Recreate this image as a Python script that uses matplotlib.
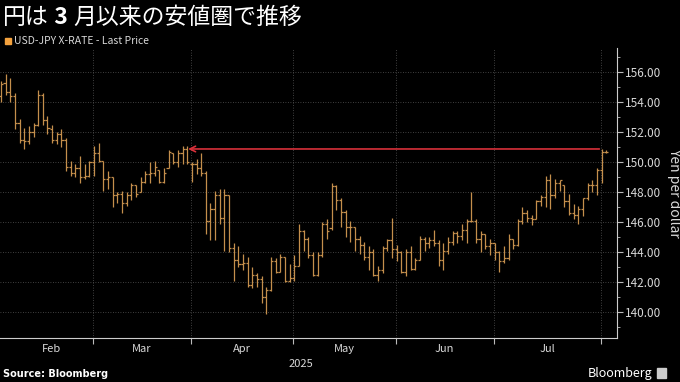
import pandas as pd
import matplotlib.pyplot as plt
import numpy as np
from matplotlib.patches import Rectangle

plt.rcParams['font.family'] = ['Noto Sans CJK JP', 'DejaVu Sans']

# daily USD-JPY bars, weekdays from Jan 31 to Aug 1 2025
dates = pd.bdate_range('2025-01-31', '2025-08-01')

opens = [154.4, 155.3, 154.7, 154.4, 152.6, 151.5, 151.4, 152.0, 152.5, 154.5,
         152.8, 152.2, 151.5, 151.9, 151.5, 149.7, 149.3, 149.6, 149.0, 149.1,
         150.0, 150.6, 150.1, 148.9, 149.0, 147.8, 147.9, 147.3, 147.8, 148.5,
         148.0, 148.7, 149.2, 149.3, 149.5, 148.7, 149.6, 150.6, 150.0, 150.6,
         150.9, 149.9, 149.9, 149.6, 149.3, 146.1, 146.9, 147.8, 146.3, 147.8,
         144.3, 143.5, 143.2, 143.3, 141.8, 142.5, 142.2, 141.0, 141.5, 143.4,
         142.7, 143.7, 142.1, 142.3, 143.1, 145.4, 144.9, 143.8, 142.5, 143.8,
         145.9, 145.6, 148.4, 147.5, 146.7, 145.7, 145.7, 144.9, 144.5, 143.7,
         144.0, 142.5, 142.8, 144.3, 144.8, 144.2, 144.0, 142.7, 144.0, 142.9,
         143.5, 144.9, 144.6, 144.8, 144.6, 143.5, 144.1, 144.7, 145.3, 145.1,
         145.5, 146.1, 146.1, 144.9, 145.2, 144.4, 144.6, 144.0, 143.4, 143.6,
         144.9, 144.5, 146.1, 146.6, 146.3, 146.2, 147.4, 147.7, 148.8, 147.8,
         148.6, 148.5, 147.4, 146.6, 146.5, 146.9, 147.6, 148.5, 148.5, 149.5,
         150.7]
highs = [155.4, 155.9, 155.6, 154.6, 152.9, 152.3, 152.4, 152.6, 154.8, 154.6,
         153.1, 152.5, 152.0, 152.2, 151.6, 150.1, 149.9, 150.4, 149.9, 150.1,
         151.1, 151.3, 150.1, 149.4, 149.0, 148.0, 148.1, 148.0, 148.6, 148.5,
         149.0, 149.4, 150.0, 150.1, 149.5, 149.6, 150.8, 150.6, 150.8, 151.1,
         151.1, 150.0, 150.2, 150.6, 149.4, 147.3, 148.1, 148.2, 148.2, 147.8,
         144.6, 144.4, 143.9, 143.7, 143.0, 142.6, 142.4, 141.7, 143.7, 143.6,
         143.9, 143.7, 143.2, 143.8, 145.9, 145.5, 145.0, 144.0, 144.0, 146.0,
         146.2, 148.6, 148.5, 147.6, 146.8, 146.1, 145.7, 145.1, 144.7, 144.4,
         144.2, 143.1, 144.4, 144.9, 146.3, 144.5, 144.1, 144.2, 144.4, 143.6,
         145.1, 145.0, 145.0, 145.5, 144.8, 144.6, 145.0, 145.4, 145.4, 145.9,
         146.2, 148.0, 146.2, 145.4, 145.2, 144.9, 144.6, 144.1, 144.4, 145.2,
         144.9, 146.2, 147.0, 146.8, 146.5, 147.5, 147.8, 149.1, 149.2, 148.9,
         148.8, 148.5, 147.9, 147.2, 147.1, 147.6, 148.6, 148.8, 149.6, 150.9,
         150.8]
lows = [154.0, 154.5, 154.0, 152.2, 151.3, 150.9, 151.2, 151.7, 152.4, 152.5,
        151.9, 151.3, 151.2, 151.0, 149.4, 149.1, 149.0, 148.6, 148.9, 149.0,
        149.1, 150.0, 148.1, 148.2, 147.0, 147.3, 146.6, 147.1, 147.5, 147.7,
        148.0, 148.6, 148.6, 149.1, 148.6, 148.6, 149.6, 149.9, 149.7, 149.9,
        149.9, 148.7, 149.2, 149.1, 145.2, 144.8, 144.8, 145.9, 144.1, 144.0,
        142.1, 143.0, 142.8, 141.7, 141.6, 141.7, 140.6, 139.9, 141.4, 142.6,
        142.7, 142.0, 142.0, 142.1, 143.1, 144.1, 143.6, 142.4, 142.4, 143.7,
        144.9, 145.5, 146.8, 145.7, 145.0, 144.7, 144.1, 143.9, 143.5, 142.8,
        142.4, 142.1, 142.6, 144.1, 143.6, 143.4, 142.6, 142.4, 142.8, 142.8,
        143.5, 144.1, 144.3, 144.4, 143.1, 142.8, 143.9, 144.5, 144.6, 144.8,
        144.6, 146.0, 144.6, 144.0, 144.2, 143.8, 143.5, 142.7, 143.3, 143.5,
        144.2, 144.4, 145.9, 146.0, 145.8, 146.2, 147.1, 147.0, 146.9, 147.6,
        148.1, 147.0, 146.5, 146.2, 145.9, 146.4, 147.5, 148.0, 147.8, 148.6,
        150.6]
closes = [155.2, 154.7, 154.4, 152.6, 151.5, 151.4, 152.0, 152.5, 154.5, 152.8,
          152.3, 151.5, 151.9, 151.5, 149.7, 149.3, 149.6, 149.0, 149.1, 150.0,
          150.6, 150.1, 148.9, 149.0, 147.8, 147.9, 147.3, 147.8, 148.5, 147.9,
          148.7, 149.2, 149.3, 149.7, 148.7, 149.3, 150.7, 150.0, 150.6, 150.9,
          150.0, 149.9, 149.6, 149.3, 146.1, 146.9, 147.8, 146.3, 147.8, 144.3,
          143.5, 143.2, 143.3, 141.8, 142.5, 142.2, 141.0, 141.5, 143.4, 142.7,
          143.7, 142.1, 142.3, 143.1, 145.4, 144.9, 143.8, 142.5, 143.8, 145.9,
          145.4, 148.4, 147.5, 146.7, 145.7, 145.7, 144.9, 144.5, 143.7, 144.0,
          142.5, 142.8, 144.3, 144.8, 144.2, 144.0, 142.7, 144.0, 142.9, 143.5,
          144.9, 144.6, 144.8, 144.6, 143.5, 144.1, 144.7, 145.3, 145.1, 145.5,
          146.1, 146.1, 144.9, 145.2, 144.4, 144.6, 144.0, 143.4, 143.6, 144.9,
          144.5, 146.1, 146.6, 146.3, 146.2, 147.4, 147.7, 148.8, 147.8, 148.6,
          148.8, 147.4, 146.6, 146.5, 146.9, 147.6, 148.5, 148.5, 149.5, 150.7,
          150.7]

months = ['Feb', 'Mar', 'Apr', 'May', 'Jun', 'Jul']
month_starts = ['2025-03-03', '2025-04-01', '2025-05-01', '2025-06-02', '2025-07-01', '2025-08-01']
arrow_level = 150.87

BAR = '#c48f4c'
GRID = '#555555'
TXT = '#d8d8d8'

fig = plt.figure(figsize=(6.8, 3.82), dpi=100, facecolor='black')
ax = fig.add_axes([0.0, 0.1152, 0.9074, 0.7591], facecolor='black')

pos = np.arange(len(dates))
ax.vlines(pos, lows, highs, color=BAR, lw=0.9)
ax.hlines(opens, pos - 0.45, pos, color=BAR, lw=0.9)
ax.hlines(closes, pos, pos + 0.45, color=BAR, lw=0.9)

# month boundaries sit just before the first trading day of each month
idx = {d.strftime('%Y-%m-%d'): i for i, d in enumerate(dates)}
bounds = [idx[m] - 1.2 for m in month_starts]
label_pos = [(a + b) / 2 for a, b in zip([1.8] + bounds[:-1], bounds)]

ax.set_xlim(-0.2, 132.3)
ax.set_ylim(138.27, 157.6)

ax.set_xticks(bounds)
ax.set_xticklabels([])
ax.set_xticks(label_pos, minor=True)
ax.set_xticklabels(months, minor=True)
ax.tick_params(axis='x', which='major', length=4, color='#bbbbbb', direction='out')
ax.tick_params(axis='x', which='minor', length=0, pad=4, labelsize=8, labelcolor=TXT)

ax.yaxis.tick_right()
ax.set_yticks(np.arange(140, 157, 2))
ax.set_yticklabels(['%.2f' % v for v in np.arange(140, 157, 2)])
ax.set_yticks(np.arange(139, 158, 1), minor=True)
ax.tick_params(axis='y', which='major', length=4, color='#bbbbbb', labelsize=8.5, labelcolor=TXT, pad=2)
ax.tick_params(axis='y', which='minor', length=2, color='#bbbbbb')

ax.grid(True, which='major', axis='both', color=GRID, lw=0.6, linestyle=(0, (1, 2)))

for s in ['top', 'left']:
    ax.spines[s].set_visible(False)
for s in ['right', 'bottom']:
    ax.spines[s].set_color('#cccccc')
    ax.spines[s].set_linewidth(0.8)

ax.yaxis.set_label_position('right')
ax.set_ylabel('Yen per dollar', rotation=270, color=TXT, fontsize=10, labelpad=14)

ax.annotate('', xy=(39.6, arrow_level), xytext=(129.1, arrow_level),
            arrowprops=dict(arrowstyle='->', color='#d8303a', lw=1.2, mutation_scale=10))

fig.text(301 / 680, 1 - 364 / 382, '2025', color=TXT, fontsize=8, ha='center', va='center')

# title with bold numeral
renderer = fig.canvas.get_renderer()
x0 = 3 / 680
ty = 1 - 17 / 382
for part, wt in [('円は', 'normal'), (' 3 ', 'bold'), ('月以来の安値圏で推移', 'normal')]:
    t = fig.text(x0, ty, part, color='white', fontsize=16.5, fontweight=wt, va='center', ha='left')
    bb = t.get_window_extent(renderer)
    x0 = bb.x1 / fig.bbox.width

fig.patches.append(Rectangle((5 / 680, 1 - 44 / 382), 6 / 680, 6 / 382,
                             transform=fig.transFigure, color='#f4a23e'))
fig.text(14 / 680, 1 - 41 / 382, 'USD-JPY X-RATE - Last Price', color=TXT, fontsize=7.5, va='center')

fig.text(3 / 680, 1 - 374 / 382, 'Source: Bloomberg', color='white', fontsize=7,
         fontweight='bold', va='center', family='DejaVu Sans')
fig.text(652 / 680, 1 - 373 / 382, 'Bloomberg', color='white', fontsize=9,
         va='center', ha='right')
fig.patches.append(Rectangle((657 / 680, 1 - 378 / 382), 9 / 680, 10 / 382,
                             transform=fig.transFigure, color='#cccccc'))

plt.savefig('out.png', dpi=100, facecolor='black')
